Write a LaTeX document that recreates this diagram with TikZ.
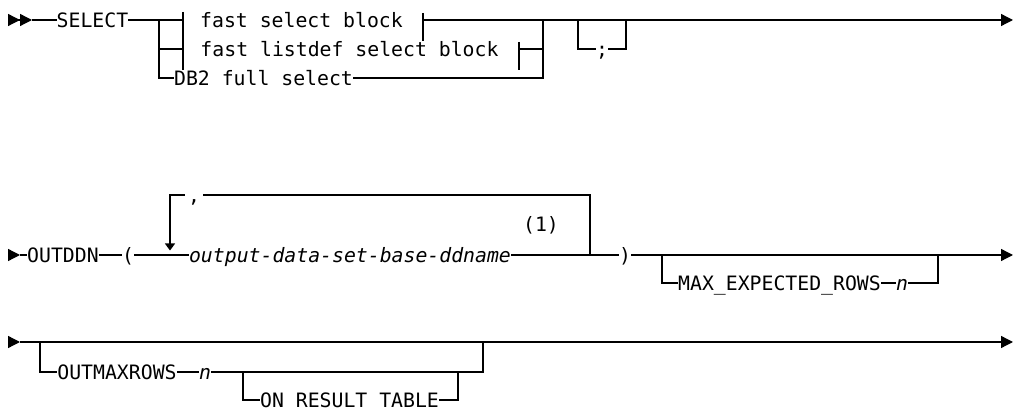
\documentclass[tikz,border=0pt]{standalone}
\usepackage{fontspec}
\usetikzlibrary{arrows.meta}
\newfontfamily\fontDiagrama{DejaVu Sans Mono}
\newcommand{\lletraDiagrama}{\fontDiagrama\fontsize{19.8}{24}\selectfont}
\tikzstyle{terme} = [font=\lletraDiagrama, inner sep=0pt, text height=14.4pt, text depth=0pt]
\tikzstyle{nomVariable} = [terme, font=\lletraDiagrama\itshape]
\tikzstyle{punt} = [coordinate]
\tikzstyle{linia} = [line width=1.3pt]
\tikzstyle{fletxa} = [linia, -{Triangle[length=12pt, width=12pt]}]
\tikzstyle{fletxaDoble} = [linia, -{Triangle[length=12pt, width=12pt]Triangle[length=12pt, width=12pt]}]
\tikzstyle{fletxaBucle} = [linia, -{Triangle[length=7pt, width=10pt]}]

\begin{document}
\begin{tikzpicture}[node distance=30pt]
	\useasboundingbox (0pt,0pt) rectangle (1013pt,-411pt);

	% Definicio de nodes

	% fila SELECT
	\node (inici1) [punt] at (8pt,-20pt) {};
	\node (inici1b) [punt, right of=inici1, xshift=-6pt] {};
	\node (select) [terme, right of=inici1, xshift=54.5pt] {SELECT};
	\node (bif1) [punt, right of=select, xshift=36.5pt] {};
	\node (barraE1) [punt, right of=bif1, xshift=-6pt] {};
	\node (fastSelect) [terme, right of=barraE1, xshift=88.5pt] {fast select block};
	\node (barraD1) [punt, right of=fastSelect, xshift=91.5pt] {};
	\node (unio1) [punt, right of=barraD1, xshift=90pt] {};
	\node (opc1) [punt, right of=unio1, xshift=5pt] {};
	\node (opc1f) [punt, right of=opc1, xshift=18pt] {};
	\node (fi1) [punt, right of=opc1f, xshift=357pt] {};

	\node (bif1b) [punt, below of=bif1, yshift=1pt] {};
	\node (barraE2) [punt, right of=bif1b, xshift=-6pt] {};
	\node (fastListdef) [terme, right of=barraE2, xshift=136.5pt] {fast listdef select block};
	\node (barraD2) [punt, right of=fastListdef, xshift=139.5pt] {};
	\node (unio1b) [punt, below of=unio1, yshift=1pt] {};
	\node (opc1b) [punt, below of=opc1, yshift=1pt] {};
	\node (puntComa) [terme, right of=opc1b, xshift=-6pt] {;};
	\node (opc1fb) [punt, below of=opc1f, yshift=1pt] {};

	\node (bif1c) [punt, below of=bif1b, yshift=1pt] {};
	\node (db2) [terme, right of=bif1c, xshift=74.5pt] {DB2 full select};
	\node (unio1c) [punt, below of=unio1b, yshift=1pt] {};

	% fila OUTDDN
	\node (inici2) [punt, below of=inici1, yshift=-205pt] {};
	\node (inici2b) [punt, right of=inici2, xshift=-18pt] {};
	\node (outddn) [terme, right of=inici2, xshift=25pt] {OUTDDN};
	\node (parA) [terme, right of=outddn, xshift=35pt] {(};
	\node (bucleB) [punt, right of=parA, xshift=12pt, yshift=4.5pt] {};
	\node (bucleA) [punt, above of=bucleB, yshift=25.5pt] {};
	\node (coma) [terme, right of=bucleA, xshift=-6pt, inner xsep=3pt] {,};
	\node (bucleC) [punt, right of=bucleA, xshift=390pt] {};
	\node (bucleD) [punt, below of=bucleC, yshift=-30pt] {};
	\node (sortida) [nomVariable, right of=parA, xshift=192pt] {output-data-set-base-ddname};
	\node (nota1) [terme, right of=sortida, xshift=161pt, yshift=31pt] {(1)};
	\node (parB) [terme, right of=sortida, xshift=245pt] {)};
	\node (bif2) [punt, right of=parB, xshift=7pt] {};
	\node (bif2b) [punt, below of=bif2, yshift=2pt] {};
	\node (maxRows) [terme, right of=bif2b, xshift=87.5pt] {MAX\_EXPECTED\_ROWS};
	\node (n1) [nomVariable, right of=maxRows, xshift=92.5pt] {n};
	\node (unio2b) [punt, right of=n1, xshift=6pt] {};
	\node (unio2) [punt, above of=unio2b, yshift=-2pt] {};
	\node (fi2) [punt, right of=unio2, xshift=45pt] {};

	% fila OUTMAXROWS
	\node (inici3) [punt, below of=inici2, yshift=-57pt] {};
	\node (inici3b) [punt, right of=inici3, xshift=-18pt] {};
	\node (bif3) [punt, right of=inici3, xshift=2pt] {};
	\node (bif3b) [punt, below of=bif3] {};
	\node (outMax) [terme, right of=bif3b, xshift=47pt] {OUTMAXROWS};
	\node (n2) [nomVariable, right of=outMax, xshift=58pt] {n};
	\node (bif4) [punt, right of=n2, xshift=8pt] {};
	\node (bif4b) [punt, below of=bif4, yshift=2pt] {};
	\node (resultTable) [terme, right of=bif4b, xshift=76.5pt] {ON RESULT TABLE};
	\node (unio4b) [punt, right of=resultTable, xshift=78.5pt] {};
	\node (unio4) [punt, above of=unio4b, yshift=-2pt] {};
	\node (unio3b) [punt, right of=unio4, xshift=-5pt] {};
	\node (unio3) [punt, above of=unio3b] {};
	\node (fi3) [punt, right of=inici3, xshift=975pt] {};

	% Fletxes entre els nodes
	\draw [fletxaDoble] (inici1) -- (inici1b);
	\draw [linia] (inici1b) -- (select);
	\draw [linia] (select) -- (barraE1);
	\draw [linia] ([yshift=8pt]barraE1) -- ([yshift=-21pt]barraE1);
	\draw [linia] ([yshift=7pt]barraD1) -- ([yshift=-21pt]barraD1);
	\draw [fletxa] (barraD1) -- (fi1);
	\draw [linia] (bif1) -- (bif1c) -- (db2);
	\draw [linia] (bif1b) -- (barraE2);
	\draw [linia] ([yshift=8pt]barraE2) -- ([yshift=-21pt]barraE2);
	\draw [linia] ([yshift=7pt]barraD2) -- ([yshift=-21pt]barraD2);
	\draw [linia] (barraD2) -- (unio1b);
	\draw [linia] (db2) -- (unio1c) -- (unio1);
	\draw [linia] (opc1) -- (opc1b) -- (puntComa) -- (opc1fb) -- (opc1f);

	\draw [fletxa] (inici2) -- (inici2b);
	\draw [linia] (inici2b) -- (outddn);
	\draw [linia] (outddn) -- (parA);
	\draw [linia] (parA) -- (sortida);
	\draw [linia] (sortida) -- (parB);
	\draw [fletxa] (parB) -- (fi2);
	\draw [linia] (bucleD) -- (bucleC) -- (coma);
	\draw [fletxaBucle] (coma) -- (bucleA) -- (bucleB);
	\draw [linia] (bif2) -- (bif2b) -- (maxRows);
	\draw [linia] (maxRows) -- (n1);
	\draw [linia] (n1) -- (unio2b) -- (unio2);

	\draw [fletxa] (inici3) -- (inici3b);
	\draw [fletxa] (inici3b) -- (fi3);
	\draw [linia] (bif3) -- (bif3b) -- (outMax);
	\draw [linia] (outMax) -- (n2);
	\draw [linia] (n2) -- (unio3b) -- (unio3);
	\draw [linia] (bif4) -- (bif4b) -- (resultTable) -- (unio4b) -- (unio4);

\end{tikzpicture}
\end{document}
